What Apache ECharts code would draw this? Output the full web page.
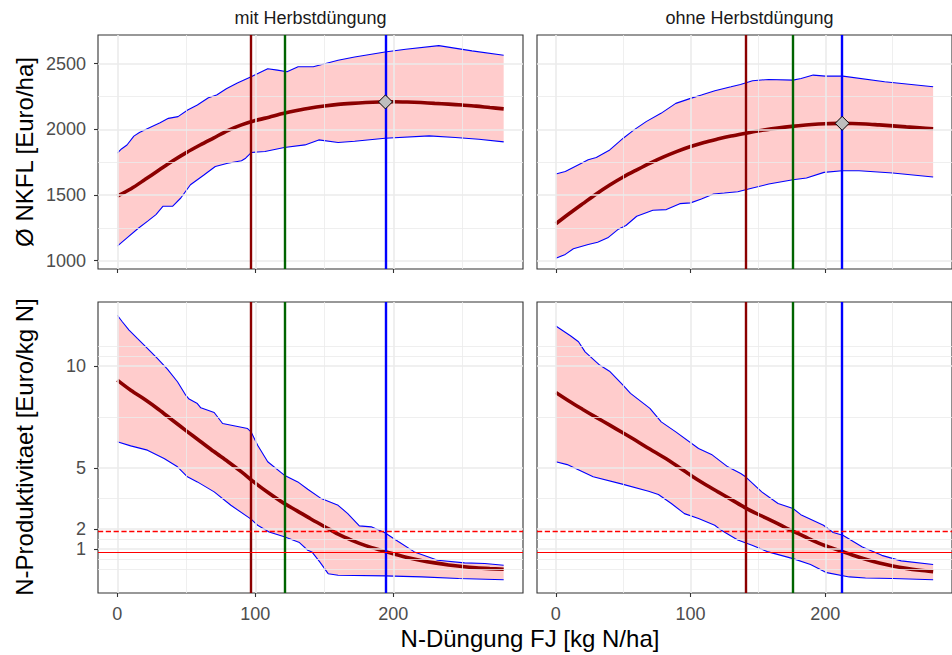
<!DOCTYPE html>
<html><head><meta charset="utf-8">
<script src="https://cdn.jsdelivr.net/npm/echarts@6/dist/echarts.min.js"></script>
<style>html,body{margin:0;padding:0;background:#fff}#c{width:952px;height:655px}</style>
</head><body><div id="c"></div>
<script>
// ---------- data ----------
const panelTitles = ['mit Herbstdüngung', 'ohne Herbstdüngung'];
const xTitle = 'N-Düngung FJ [kg N/ha]';
const yTitleTop = 'Ø NKFL [Euro/ha]';
const yTitleBottom = 'N-Produktivitaet [Euro/kg N]';

const xTicks = [0, 100, 200];
const xMinor = [50, 150, 250];
const nkflTicks = [1000, 1500, 2000, 2500];
const nkflMinor = [1250, 1750, 2250];
const prodTicks = [1, 2, 5, 10];
const prodMinor = [0, 0.5, 1.5, 3.5, 7.5, 10.5, 11];

const meanX = [0,10,20,30,40,50,60,70,80,90,100,110,120,130,140,150,160,170,180,190,200,210,220,230,240,250,260,270,280];

// NKFL, mit Herbstdüngung
const tlMean = [1492,1548,1617,1688,1758,1822,1880,1935,1990,2033,2066,2092,2119,2142,2162,2177,2189,2197,2203,2207,2209,2207,2203,2197,2191,2184,2176,2165,2155];
const tlUpX = [0,3,7,12,16,24,31,37,44,51,58,66,72,79,87,97,109,116,123,131,142,160,172,194,209,233,257,280];
const tlUpY = [1818,1850,1880,1948,1975,2015,2050,2083,2096,2146,2184,2240,2260,2308,2352,2399,2460,2450,2437,2475,2475,2525,2550,2588,2609,2636,2596,2563];
const tlLoX = [0,7,15,22,28,33,40,46,53,63,71,80,90,93,97,107,121,136,146,160,172,194,226,245,262,280];
const tlLoY = [1111,1174,1245,1301,1351,1414,1414,1477,1578,1654,1717,1742,1760,1780,1823,1831,1861,1881,1919,1899,1909,1932,1950,1937,1924,1904];

// NKFL, ohne Herbstdüngung
const trMean = [1281,1359,1434,1508,1576,1637,1691,1743,1790,1832,1869,1900,1925,1948,1968,1987,2003,2016,2027,2036,2042,2045,2044,2040,2033,2026,2018,2011,2004];
const trUpX = [0,7,19,24,30,40,43,50,58,67,78,89,100,108,118,130,137,146,158,176,182,191,200,213,244,280];
const trUpY = [1659,1679,1742,1768,1785,1843,1870,1932,1995,2058,2121,2197,2235,2260,2293,2323,2341,2369,2379,2374,2386,2412,2404,2404,2361,2323];
const trLoX = [0,7,13,24,31,38.5,46,52,60,72,82,92,100,108,117,125,135,146,158,176,186,199,212.5,225,250,280];
const trLoY = [1018,1048,1091,1124,1141,1174,1237,1268,1338,1384,1389,1434,1440,1470,1508,1515,1525,1553,1583,1616,1629,1672,1684,1684,1667,1637];

// N-Produktivitaet, mit Herbstdüngung
const blMean = [9.31,8.80,8.36,7.87,7.34,6.82,6.31,5.80,5.31,4.80,4.25,3.75,3.29,2.90,2.50,2.12,1.74,1.44,1.18,0.97,0.78,0.60,0.45,0.33,0.23,0.15,0.09,0.05,0.02];
const blUpX = [0,3.6,8.5,14.5,21.8,29,36.3,43.6,49.6,52,58,60.5,70.2,76.3,94.4,96.9,101.7,109,121,130.8,138,147.8,160,167,175.4,184,193.6,203.3,215.3,232.2,251.6,266.3,280];
const blUpY = [12.5,12.18,11.77,11.36,10.87,10.38,9.85,9.23,8.57,8.38,8.16,7.95,7.72,7.18,6.93,6.77,6.11,5.30,4.64,4.31,3.95,3.49,3.16,2.75,2.15,2.10,1.82,1.39,0.87,0.46,0.33,0.30,0.21];
const blLoX = [0,9.7,21.8,33.9,43.6,50.8,58,70.2,82.3,96.9,101.7,110,121,132,138,141,146.7,152.8,160,194,220.6,247.3,280];
const blLoY = [6.28,6.08,5.87,5.46,5.05,4.56,4.31,3.82,3.16,2.48,2.18,1.85,1.61,1.33,0.95,0.87,0.38,-0.20,-0.28,-0.31,-0.36,-0.44,-0.50];

// N-Produktivitaet, ohne Herbstdüngung
const brMean = [8.70,8.27,7.87,7.48,7.10,6.71,6.32,5.91,5.52,5.09,4.64,4.22,3.83,3.45,3.06,2.72,2.41,2.08,1.77,1.45,1.17,0.95,0.72,0.51,0.33,0.18,0.06,-0.03,-0.10];
const brUpX = [0,10.8,16.8,21.7,32.5,39.8,49.3,55.4,69.8,78.2,89,105.9,115.5,127.6,137.2,140.8,152.8,164.9,176,181.8,198.6,205.8,213,227.5,241.9,256.3,280];
const brUpY = [11.97,11.49,11.20,10.70,10.05,9.75,9.10,8.66,7.92,7.26,6.77,5.95,5.66,5.05,4.72,4.56,3.82,3.25,3.00,2.70,2.18,1.82,1.69,1.11,0.70,0.43,0.25];
const brLoX = [0,8.4,27.7,49.3,68.8,76.1,85.7,95.4,105.9,117.9,122.8,135,145.6,157.6,176,189,201,217.8,229.8,250,280];
const brLoY = [5.30,5.16,4.56,4.20,3.85,3.69,3.25,2.75,2.51,2.18,1.93,1.45,1.20,0.87,0.54,0.25,-0.15,-0.36,-0.41,-0.44,-0.50];

// reference lines
const vlinesLeft = [96.8, 121, 194.3];
const vlinesRight = [140.6, 176, 212.5];
const vlineColors = ['#8B0000', '#006400', '#0000FF'];
const hlineDashed = 1.88;
const hlineSolid = 0.87;
const optimumLeft = [194.3, 2208];
const optimumRight = [212.5, 2045];

// ---------- chart ----------
const FONT = '"Liberation Sans", Arial, sans-serif';
const zip = (a, b) => a.map((v, i) => [v, b[i]]);
const plain = v => String(v);

const grids = [
  {left: 98, top: 35, width: 425, height: 234},
  {left: 537, top: 35, width: 425, height: 234},
  {left: 98, top: 302, width: 425, height: 291},
  {left: 537, top: 302, width: 425, height: 291}
].map(g => Object.assign({show: true, borderColor: '#333333', borderWidth: 1.1, backgroundColor: '#ffffff', containLabel: false}, g));

const panels = [
  {mean: tlMean, upX: tlUpX, upY: tlUpY, loX: tlLoX, loY: tlLoY, vl: vlinesLeft, opt: optimumLeft, top: true, left: true},
  {mean: trMean, upX: trUpX, upY: trUpY, loX: trLoX, loY: trLoY, vl: vlinesRight, opt: optimumRight, top: true, left: false},
  {mean: blMean, upX: blUpX, upY: blUpY, loX: blLoX, loY: blLoY, vl: vlinesLeft, opt: null, top: false, left: true},
  {mean: brMean, upX: brUpX, upY: brUpY, loX: brLoX, loY: brLoY, vl: vlinesRight, opt: null, top: false, left: false}
];

const xAxes = panels.map((p, i) => ({
  gridIndex: i, type: 'value', min: -14, max: 294,
  axisLine: {show: false, onZero: false},
  splitLine: {show: false},
  axisTick: {show: true, customValues: xTicks, length: 4, lineStyle: {color: '#333333', width: 1.1}},
  axisLabel: {show: !p.top, customValues: xTicks, formatter: plain, color: '#4D4D4D', fontSize: 18, fontFamily: FONT, margin: 12}
}));

const yAxes = panels.map((p, i) => ({
  gridIndex: i, type: 'value',
  min: p.top ? 937 : -1.15, max: p.top ? 2717 : 13.15,
  axisLine: {show: false, onZero: false},
  splitLine: {show: false},
  axisTick: {show: p.left, customValues: p.top ? nkflTicks : prodTicks, length: 4, lineStyle: {color: '#333333', width: 1.1}},
  axisLabel: {show: p.left, customValues: p.top ? nkflTicks : prodTicks, formatter: plain, color: '#4D4D4D', fontSize: 18, fontFamily: FONT, margin: 12}
}));

const series = [];
panels.forEach((p, i) => {
  const yMaj = p.top ? nkflTicks : prodTicks;
  const yMin = p.top ? nkflMinor : prodMinor;
  const gl = [];
  xMinor.forEach(v => gl.push({xAxis: v, lineStyle: {width: 0.8}}));
  yMin.forEach(v => gl.push({yAxis: v, lineStyle: {width: 0.8}}));
  xTicks.forEach(v => gl.push({xAxis: v, lineStyle: {width: 1.6}}));
  yMaj.forEach(v => gl.push({yAxis: v, lineStyle: {width: 1.6}}));
  series.push({
    type: 'line', xAxisIndex: i, yAxisIndex: i, data: [], z: 1, silent: true,
    markLine: {silent: true, symbol: 'none', label: {show: false}, animation: false,
      lineStyle: {color: '#EBEBEB', type: 'solid', width: 1.2}, emphasis: {disabled: true}, data: gl}
  });
  // ribbon
  series.push({
    type: 'custom', xAxisIndex: i, yAxisIndex: i, z: 2, silent: true,
    data: [[p.upX[0], p.upY[0]]],
    renderItem: (params, api) => {
      const pts = [];
      for (let k = 0; k < p.upX.length; k++) pts.push(api.coord([p.upX[k], p.upY[k]]));
      for (let k = p.loX.length - 1; k >= 0; k--) pts.push(api.coord([p.loX[k], p.loY[k]]));
      return {type: 'polygon', shape: {points: pts}, style: {fill: 'rgba(255,0,0,0.2)', stroke: null}};
    }
  });
  series.push({type: 'line', xAxisIndex: i, yAxisIndex: i, z: 3, data: zip(p.upX, p.upY), symbol: 'none', silent: true,
    lineStyle: {color: '#0000FF', width: 1.1}});
  series.push({type: 'line', xAxisIndex: i, yAxisIndex: i, z: 3, data: zip(p.loX, p.loY), symbol: 'none', silent: true,
    lineStyle: {color: '#0000FF', width: 1.1}});
  series.push({type: 'line', xAxisIndex: i, yAxisIndex: i, z: 4, data: zip(meanX, p.mean), symbol: 'none', smooth: 0.3, silent: true,
    lineStyle: {color: '#8B0000', width: 3.6}});
  // vertical lines
  series.push({
    type: 'line', xAxisIndex: i, yAxisIndex: i, data: [], z: 5, silent: true,
    markLine: {silent: true, symbol: 'none', label: {show: false}, animation: false, emphasis: {disabled: true},
      data: p.vl.map((v, k) => ({xAxis: v, lineStyle: {color: vlineColors[k], width: 2.4, type: 'solid'}}))}
  });
  if (!p.top) {
    series.push({
      type: 'line', xAxisIndex: i, yAxisIndex: i, data: [], z: 6, silent: true,
      color: '#FF0000',
      markLine: {silent: true, symbol: 'none', label: {show: false}, animation: false, emphasis: {disabled: true},
        lineStyle: {color: '#FF0000', width: 1.2, type: 'solid'},
        data: [{yAxis: hlineSolid}]}
    });
    series.push({
      type: 'line', xAxisIndex: i, yAxisIndex: i, data: [], z: 6, silent: true,
      color: '#FF0000',
      markLine: {silent: true, symbol: 'none', label: {show: false}, animation: false, emphasis: {disabled: true},
        lineStyle: {color: '#FF0000', width: 1.3, type: 'dashed', dashOffset: 0, opacity: 1},
        data: [{yAxis: hlineDashed, lineStyle: {color: '#FF0000'}}]}
    });
  }
  if (p.opt) {
    series.push({type: 'scatter', xAxisIndex: i, yAxisIndex: i, z: 7, silent: true, data: [p.opt],
      symbol: 'diamond', symbolSize: 14,
      itemStyle: {color: '#BEBEBE', borderColor: '#000000', borderWidth: 1, opacity: 1}});
  }
});

const txt = (x, y, text, size, color, rot) => ({
  type: 'text', x: x, y: y, rotation: rot || 0, silent: true,
  style: {text: text, fill: color, font: size + 'px ' + FONT, align: 'center', verticalAlign: 'middle',
    textAlign: 'center', textVerticalAlign: 'middle'}
});

const option = {
  animation: false,
  backgroundColor: '#ffffff',
  grid: grids,
  xAxis: xAxes,
  yAxis: yAxes,
  series: series,
  graphic: [
    txt(310.5, 18, panelTitles[0], 18, '#1A1A1A'),
    txt(749.5, 18, panelTitles[1], 18, '#1A1A1A'),
    txt(530, 638, xTitle, 24, '#000000'),
    txt(24, 152, yTitleTop, 24, '#000000', Math.PI / 2),
    txt(24, 447, yTitleBottom, 24, '#000000', Math.PI / 2)
  ]
};

const chart = echarts.init(document.getElementById('c'), null, {renderer: 'svg', width: 952, height: 655});
chart.setOption(option);
</script>
</body></html>
